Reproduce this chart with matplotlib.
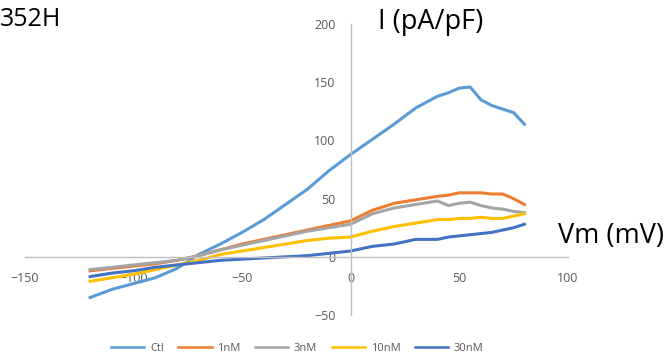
import matplotlib.pyplot as plt

# membrane potential (mV) sampled along each trace
vm = [-120, -110, -100, -90, -80, -70, -60, -50, -40, -30, -20, -10,
      0, 10, 20, 30, 40, 45, 50, 55, 60, 65, 70, 75, 80]

# current density (pA/pF)
ctl = [-35, -28, -23, -18, -10, 2, 11, 21, 32, 45, 58, 74,
       88, 101, 114, 128, 138, 141, 145, 146, 135, 130, 127, 124, 114]
nm1 = [-12, -10, -8, -6, -3, 1, 6, 11, 15, 19, 23, 27,
       31, 40, 46, 49, 52, 53, 55, 55, 55, 54, 54, 50, 45]
nm3 = [-11, -9, -7, -5, -3, 1, 6, 10, 14, 18, 22, 25,
       28, 37, 42, 45, 48, 44, 46, 47, 44, 42, 41, 39, 38]
nm10 = [-21, -18, -15, -11, -7, -3, 2, 5, 8, 11, 14, 16,
        17, 22, 26, 29, 32, 32, 33, 33, 34, 33, 33, 35, 37]
nm30 = [-17, -14, -12, -9, -7, -5, -3, -2, -1, 0, 1, 3,
        5, 9, 11, 15, 15, 17, 18, 19, 20, 21, 23, 25, 28]

series = [
    ("Ctl", ctl, "#5B9BD5"),
    ("1nM", nm1, "#ED7D31"),
    ("3nM", nm3, "#A5A5A5"),
    ("10nM", nm10, "#FFC000"),
    ("30nM", nm30, "#4472C4"),
]

plt.rcParams["font.family"] = ["Open Sans", "DejaVu Sans"]

fig = plt.figure(figsize=(6.68, 3.6), dpi=100)
ax = fig.add_axes([0.0374, 0.125, 0.8126, 0.808])

for name, vals, color in series:
    ax.plot(vm, vals, color=color, lw=2.2, label=name)

ax.set_xlim(-150, 100)
ax.set_ylim(-50, 200)
ax.set_xticks([-150, -100, -50, 0, 50, 100])
ax.set_yticks([-50, 0, 50, 100, 150, 200])

ax.spines["left"].set_position(("data", 0))
ax.spines["bottom"].set_position(("data", 0))
ax.spines["top"].set_visible(False)
ax.spines["right"].set_visible(False)
for s in ("left", "bottom"):
    ax.spines[s].set_color("#bfbfbf")
    ax.spines[s].set_linewidth(1)
ax.tick_params(axis="both", length=0, labelsize=9, labelcolor="#595959")
ax.tick_params(axis="x", pad=11)
ax.tick_params(axis="y", pad=11)
ax.set_facecolor("none")

fig.text(0.0, 0.945, "352H", fontsize=18, ha="left", va="center")
fig.text(0.566, 0.938, "I (pA/pF)", fontsize=19.5, ha="left", va="center")
fig.text(0.835, 0.345, "Vm (mV)", fontsize=19.5, ha="left", va="center")

leg = fig.legend(loc="center", bbox_to_anchor=(0.445, 0.032), ncol=5,
                 frameon=False, fontsize=8, handlelength=3.0,
                 columnspacing=1.3, handletextpad=0.5)
for t in leg.get_texts():
    t.set_color("#595959")
for h in leg.get_lines():
    h.set_linewidth(1.8)

fig.savefig("out.png", dpi=100)
